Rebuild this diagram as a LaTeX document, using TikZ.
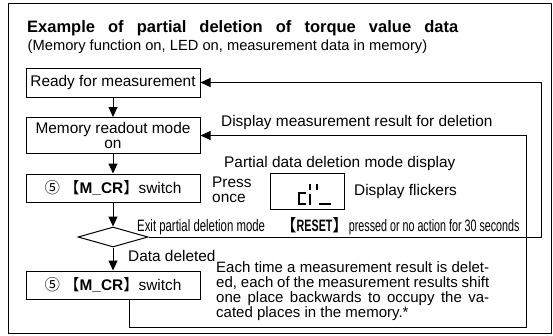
\documentclass[tikz,border=0pt]{standalone}
\usepackage{fontspec}
\setmainfont{Liberation Sans}
\newfontfamily\cjk{Noto Sans CJK SC}
\newfontfamily\narrowfont[FakeStretch=0.69]{Liberation Sans}
\newfontfamily\narrowerfont[FakeStretch=0.65]{Liberation Sans}
\usetikzlibrary{arrows.meta,shapes.geometric}
\newcommand\myBody{\fontsize{15.4}{15}\selectfont}
\newcommand\myBr[1]{{\cjk 【}\textbf{#1}{\cjk 】}}
\begin{document}
\begin{tikzpicture}[x=1pt,y=-1pt,
  box/.style={draw, line width=1pt, minimum width=174pt, inner sep=0pt, align=center, font=\myBody},
  arr/.style={line width=1pt, -{Triangle[length=10pt,width=9pt]}},
  lbl/.style={anchor=base west, inner sep=0pt, font=\myBody},
  narrowlbl/.style={anchor=base west, inner sep=0pt, font=\fontsize{16.5}{15}\narrowfont},
  narrowerlbl/.style={anchor=base west, inner sep=0pt, font=\fontsize{16.5}{15}\narrowerfont},
  paralbl/.style={anchor=base west, inner sep=0pt, font=\fontsize{15}{15}\selectfont},
  seg/.style={line width=2pt}]
\useasboundingbox (0,0) rectangle (553,335);
\draw[line width=1pt] (8.5,3.5) rectangle (551.5,333.5);
% title
\node[anchor=base west, inner sep=0pt] (title) at (27,32)
  {\fontsize{16.5}{18}\selectfont\bfseries\makebox[431pt][s]{Example of partial deletion of torque value data}};
\node[anchor=base west, inner sep=0pt] (sub) at (27.5,50)
  {\fontsize{14.7}{16}\selectfont (Memory function on, LED on, measurement data in memory)};
% boxes
\node[box, minimum height=29pt] (b1) at (113,82.5) {Ready for measurement};
\node[box, minimum height=36pt] (b2) at (113,135.5) {Memory readout mode\\on};
\node[box, minimum height=28pt] (b3) at (113,188) {{\cjk ⑤} \myBr{M\_CR}switch};
\node[draw, line width=1pt, shape=diamond, minimum width=70pt, minimum height=20pt, inner sep=0pt] (dia) at (113,237) {};
\node[box, minimum height=28pt] (b4) at (113,285) {{\cjk ⑤} \myBr{M\_CR}switch};
% display
\node[draw, line width=1pt, minimum width=74pt, minimum height=36pt, inner sep=0pt] (disp) at (307,191) {};
\draw[seg] (300,193) -- (306,193);
\draw[seg] (299,192) -- (299,205);
\draw[seg] (300,204) -- (306,204);
\draw[seg] (310,184) -- (310,190);
\draw[seg] (317,184) -- (317,190);
\draw[seg] (310,194) -- (310,205);
\draw[seg] (319,204) -- (331,204);
% connectors
\draw[arr] (b1.south) -- (b2.north);
\draw[arr] (b2.south) -- (b3.north);
\draw[arr] (b3.south) -- (dia.north);
\draw[arr] (dia.south) -- (b4.north);
\coordinate (r1) at (541,237);
\coordinate (r2) at (541,82.5);
\draw[arr] (dia.east) -- (r1) -- (r2) -- (b1.east);
\coordinate (l0) at (129,299);
\coordinate (l1) at (129,327);
\coordinate (l2) at (526,327);
\coordinate (l3) at (526,135.5);
\draw[arr] (l0) -- (l1) -- (l2) -- (l3) -- (b2.east);
% labels
\node[lbl] (t1) at (221,126) {Display measurement result for deletion};
\node[lbl] (t2) at (224,167) {Partial data deletion mode display};
\node[lbl] (t3) at (212,187) {Press};
\node[lbl] (t4) at (212,202) {once};
\node[lbl] (t5) at (354,195) {Display flickers};
\node[narrowlbl] (t6) at (137,231) {Exit partial deletion mode};
\node[narrowerlbl] (t7) at (280,231) {{\cjk 【}\textbf{RESET}{\cjk 】}pressed or no action for 30 seconds};
\node[lbl] (t8) at (128,261) {Data deleted};
\node[paralbl] (p1) at (216,272) {\makebox[273pt][s]{Each time a measurement result is delet-}};
\node[paralbl] (p2) at (216,287) {\makebox[273pt][s]{ed, each of the measurement results shift}};
\node[paralbl] (p3) at (216,302) {\makebox[273pt][s]{one place backwards to occupy the va-}};
\node[paralbl] (p4) at (216,317) {cated places in the memory.*};
\end{tikzpicture}
\end{document}
